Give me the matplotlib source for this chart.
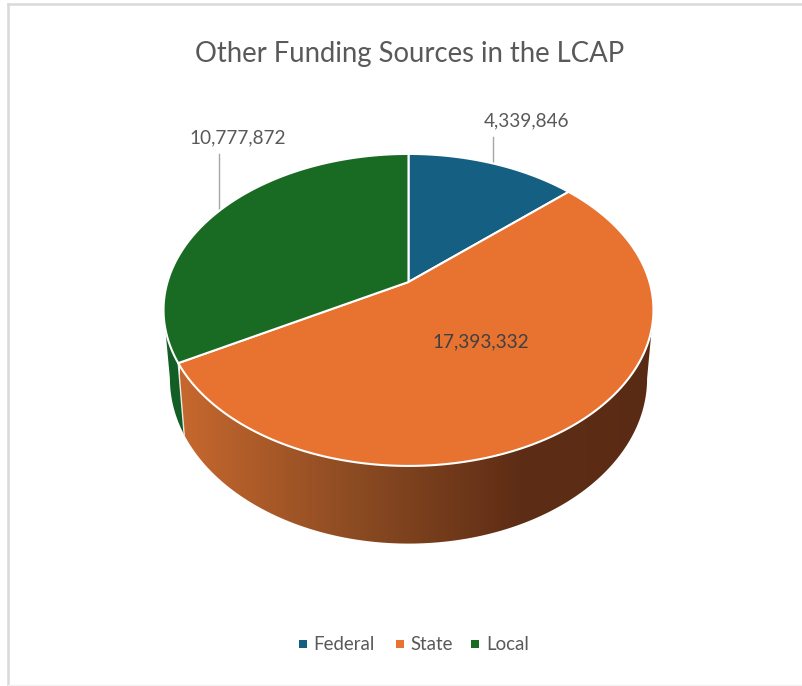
import numpy as np
import matplotlib
matplotlib.use('Agg')
import matplotlib.pyplot as plt
from matplotlib.colors import LinearSegmentedColormap
from matplotlib.patches import Polygon

plt.rcParams['font.family'] = ['Lato', 'DejaVu Sans']

# data
categories = ['Federal', 'State', 'Local']
values = [4339846, 17393332, 10777872]
value_labels = ['4,339,846', '17,393,332', '10,777,872']
colors = ['#156082', '#E8722F', '#196B24']
title = 'Other Funding Sources in the LCAP'

# projection of the tilted disc onto pixel coords
CX, CY = 408.5, 282.0
A, C, K = 241.0, 151.0, 0.179
BOT_SX, BOT_SY, BOT_CY = 0.974, 1.058, 349.0


def project(theta, bottom=False):
    # theta: clockwise from 12 o'clock, radians
    X, Y = np.sin(theta), np.cos(theta)
    d = 1.0 + K * Y
    x, y = A * X / d, C * Y / d
    if bottom:
        return CX + BOT_SX * x, BOT_CY - BOT_SY * y
    return CX + x, CY - y


def side_poly(t0, t1):
    t = np.linspace(t0, t1, 200)
    xt, yt = project(t)
    xb, yb = project(t[::-1], bottom=True)
    return np.column_stack([np.r_[xt, xb], np.r_[yt, yb]])


fig = plt.figure(figsize=(8.02, 6.86), dpi=100, facecolor='white')
ax = fig.add_axes([0, 0, 1, 1])
ax.set_xlim(0, 802)
ax.set_ylim(686, 0)
ax.axis('off')

# chart frame
ax.plot([8, 8], [4, 686], c='#d9d9d9', lw=1.8)
ax.plot([8, 802], [4, 4], c='#d9d9d9', lw=1.8)
ax.plot([8, 802], [685, 685], c='#f2f2f2', lw=1.0)

# slice angles
frac = np.array(values) / np.sum(values)
edges = np.r_[0, np.cumsum(frac)] * 2 * np.pi
left_tan = 2 * np.pi - np.arccos(-K)
right_tan = np.arccos(-K)

# side walls
green_side = side_poly(edges[2], left_tan)
ax.add_patch(Polygon(green_side, fc='#135E24', ec='none', zorder=2))

state_side = side_poly(right_tan, edges[2])
clip = Polygon(state_side, fc='none', ec='none', transform=ax.transData, zorder=2)
ax.add_patch(clip)
cmap = LinearSegmentedColormap.from_list('side', [(0, '#5A2B14'), (0.28, '#5E2D15'),
                                                  (0.62, '#8A4A22'), (1, '#C6682E')])
im = ax.imshow(np.linspace(1, 0, 256)[None, :], extent=[180, 653, 560, 300], cmap=cmap,
               aspect='auto', zorder=2, vmin=0, vmax=1)
im.set_clip_path(clip)
ax.set_xlim(0, 802)
ax.set_ylim(686, 0)

# seam between the side walls
sx, sy = project(edges[2])
bx, by = project(edges[2], bottom=True)
ax.plot([sx, bx], [sy, by], c='#e8e8e8', lw=1.0, zorder=3)

# top face
for i in range(len(values)):
    t = np.linspace(edges[i], edges[i + 1], 200)
    x, y = project(t)
    pts = np.column_stack([np.r_[CX, x], np.r_[CY, y]])
    ax.add_patch(Polygon(pts, fc=colors[i], ec='white', lw=1.5, zorder=4, joinstyle='round'))

# leader lines
ax.plot([493, 493], [137, 165], c='#a6a6a6', lw=1.0, zorder=3)
ax.plot([219, 219], [154, 213], c='#a6a6a6', lw=1.0, zorder=3)

# labels
txt = '#595959'
ax.text(410, 54, title, color=txt, fontsize=19.8, ha='center', va='center', zorder=6)
ax.text(527, 121, value_labels[0], color=txt, fontsize=13.7, ha='center', va='center', zorder=6)
ax.text(481, 342, value_labels[1], color='#404040', fontsize=13.7, ha='center', va='center', zorder=6)
ax.text(238, 138, value_labels[2], color=txt, fontsize=13.7, ha='center', va='center', zorder=6)

# legend
marker_x = [303, 400, 474.5]
text_x = [313, 410, 486]
for i in range(len(categories)):
    ax.scatter([marker_x[i]], [644], marker='s', s=38, color=colors[i], linewidths=0, zorder=6)
    ax.text(text_x[i], 645, categories[i], color=txt, fontsize=13.4, ha='left', va='center', zorder=6)

fig.savefig('out.png', dpi=100, facecolor='white')
